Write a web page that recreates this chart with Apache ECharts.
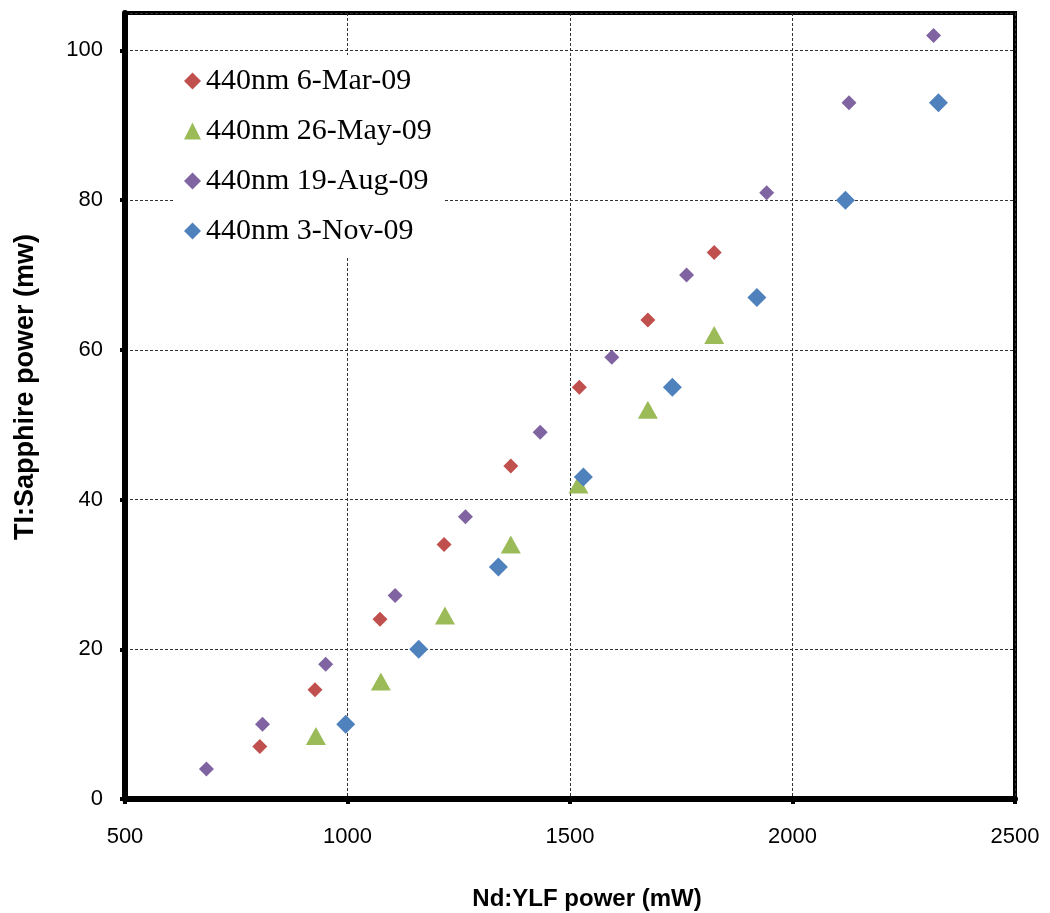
<!DOCTYPE html>
<html><head><meta charset="utf-8">
<script src="https://cdn.jsdelivr.net/npm/echarts@6/dist/echarts.min.js"></script>
<style>html,body{margin:0;padding:0;background:#fff}#c{width:1050px;height:913px}</style>
</head><body><div id="c"></div>
<script>
const seriesNames = ['440nm 6-Mar-09', '440nm 26-May-09', '440nm 19-Aug-09', '440nm 3-Nov-09'];
const mar06 = [[803,7],[927,14.6],[1073,24],[1217,34],[1367,44.5],[1521,55],[1675,64],[1824,73]];
const may26 = [[929,8.4],[1075,15.7],[1219,24.5],[1367,34],[1519,42],[1675,52],[1824,62]];
const aug19 = [[683,4],[809,10],[951,18],[1107,27.2],[1265,37.7],[1433,49],[1594,59],[1762,70],[1942,81],[2127,93],[2317,102]];
const nov03 = [[996,10],[1160,20],[1339,31],[1530,43],[1730,55],[1920,67],[2119,80],[2328,93]];
const xTitle = 'Nd:YLF power (mW)';
const yTitle = 'TI:Sapphire power (mw)';

const chart = echarts.init(document.getElementById('c'), null, {renderer: 'canvas'});
const sans = "'Liberation Sans', Arial, sans-serif";
const gridLine = {show: true, lineStyle: {color: '#333', width: 1, type: [3, 2]}};
chart.setOption({
  animation: false,
  backgroundColor: '#fff',
  grid: {left: 125, right: 35, top: 13, bottom: 114, show: true, borderColor: '#000', borderWidth: 4, backgroundColor: 'transparent', containLabel: false, outerBoundsMode: 'none'},
  legend: {
    left: 173, top: 55, orient: 'vertical', padding: [11, 12, 11, 11],
    backgroundColor: '#fff', itemGap: 20, itemWidth: 17, itemHeight: 17,
    textStyle: {fontFamily: "'Liberation Serif', 'Times New Roman', serif", fontSize: 30, color: '#000', lineHeight: 30},
    data: seriesNames
  },
  xAxis: {
    type: 'value', min: 500, max: 2500, interval: 500,
    name: xTitle, nameLocation: 'middle', nameGap: 88,
    nameTextStyle: {fontFamily: sans, fontSize: 24, fontWeight: 'bold', color: '#000', padding: [0, 0, 0, 34]},
    axisLine: {show: true, onZero: false, lineStyle: {color: '#000', width: 6}},
    axisTick: {show: true, inside: false, length: 5, lineStyle: {color: '#000', width: 4}},
    axisLabel: {fontFamily: sans, fontSize: 22, color: '#000', margin: 27, formatter: v => String(v)},
    splitLine: gridLine
  },
  yAxis: {
    type: 'value', min: 0, max: 105, interval: 20,
    name: yTitle, nameLocation: 'middle', nameGap: 86, nameRotate: 90,
    nameTextStyle: {fontFamily: sans, fontSize: 27, fontWeight: 'bold', color: '#000', padding: [0, 0, 0, 38]},
    axisLine: {show: true, onZero: false, lineStyle: {color: '#000', width: 6}},
    axisTick: {show: true, inside: false, length: 5, lineStyle: {color: '#000', width: 4}},
    axisLabel: {fontFamily: sans, fontSize: 22, color: '#000', margin: 22, showMaxLabel: false, formatter: v => String(v)},
    splitLine: gridLine
  },
  series: [
    {name: seriesNames[0], type: 'scatter', data: mar06, symbol: 'diamond', symbolSize: 15, itemStyle: {color: '#C0504D', opacity: 1}},
    {name: seriesNames[1], type: 'scatter', data: may26, symbol: 'triangle', symbolSize: [20, 18], itemStyle: {color: '#9BBB59', opacity: 1}},
    {name: seriesNames[2], type: 'scatter', data: aug19, symbol: 'diamond', symbolSize: 15, itemStyle: {color: '#8064A2', opacity: 1}},
    {name: seriesNames[3], type: 'scatter', data: nov03, symbol: 'diamond', symbolSize: 19, itemStyle: {color: '#4F81BD', opacity: 1}}
  ]
});
</script>
</body></html>
